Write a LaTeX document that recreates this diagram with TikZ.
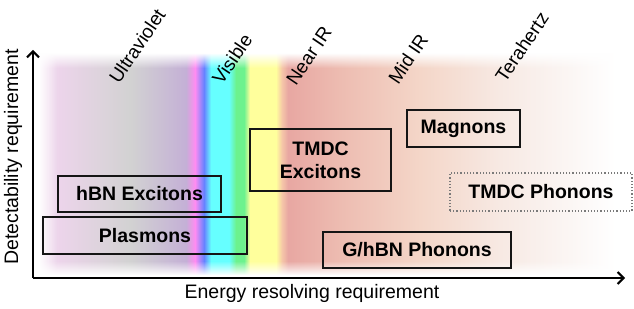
\documentclass[tikz,border=0pt]{standalone}
\usepackage{fontspec}
\setmainfont{Liberation Sans}
\usepackage{xcolor}
\usepackage{tikz}
\usetikzlibrary{arrows.meta, fadings}

\definecolor{uvpink}{HTML}{F2DCF0}
\definecolor{uvpinkb}{HTML}{ECD4EA}
\definecolor{uvgray}{HTML}{D2D2D2}
\definecolor{uvlilac}{HTML}{C4B0D6}
\definecolor{vismag}{HTML}{FF8CF2}
\definecolor{visblue}{HTML}{6682FF}
\definecolor{viscyan}{HTML}{66FFFF}
\definecolor{visgreen}{HTML}{6CF28E}
\definecolor{visyellow}{HTML}{FFFF9C}
\definecolor{nirorange}{HTML}{F5C6A8}
\definecolor{nirred}{HTML}{E8A7A2}
\definecolor{nirb}{HTML}{EDBCB1}
\definecolor{mirpeach}{HTML}{F4D6C8}
\definecolor{thzpale}{HTML}{F7E9E3}
\definecolor{thzfade}{HTML}{FBF6F4}
\definecolor{boxline}{HTML}{151515}
\definecolor{dotline}{HTML}{7A7A7A}

% spectrum across the band, x = 40 ... 615
\pgfdeclarehorizontalshading{spectrum}{100bp}{color(0bp)=(uvpink); color(25bp)=(uvpink);
  color(26.74bp)=(uvpinkb); color(32.83bp)=(uvgray); color(37.7bp)=(uvlilac);
  color(38.48bp)=(vismag); color(39.26bp)=(visblue); color(39.87bp)=(viscyan);
  color(41.43bp)=(viscyan); color(42.04bp)=(visgreen); color(42.74bp)=(visgreen);
  color(43.26bp)=(visyellow); color(45.52bp)=(visyellow); color(46.04bp)=(nirorange);
  color(46.57bp)=(nirred); color(51.09bp)=(nirb); color(58.04bp)=(mirpeach);
  color(65bp)=(thzpale); color(71.09bp)=(thzfade); color(75bp)=(white); color(100bp)=(white)}

\tikzfading[name=fadetop, top color=transparent!0, bottom color=transparent!100]
\tikzfading[name=fadebottom, top color=transparent!100, bottom color=transparent!0]
\tikzfading[name=fadeleft, left color=transparent!0, right color=transparent!100]

\begin{document}
\begin{tikzpicture}[
    x=1pt, y=1pt,
    box/.style={rectangle, draw=boxline, line width=1.2pt, inner sep=0pt, align=center, font=\fontsize{19.5}{23}\selectfont\bfseries},
    dottedbox/.style={box, draw=dotline, dotted, line width=1.3pt},
    region/.style={rotate=56, font=\fontsize{19}{22}\selectfont},
    axislabel/.style={font=\fontsize{19.5}{22}\selectfont},
    axis/.style={-{Straight Barb[length=6pt, width=12pt]}, line width=2pt}
]
\useasboundingbox (0,0) rectangle (634,308);

% Spectrum
\shade[shading=spectrum] (40,34) rectangle (615,254);
\fill[white, path fading=fadetop] (38,240) rectangle (617,255);
\fill[white, path fading=fadebottom] (38,33) rectangle (617,47);
\fill[white, path fading=fadeleft] (38,33) rectangle (57,255);

% Regions
\node[region] (uv) at (137,262) {Ultraviolet};
\node[region] (vis) at (232,249) {Visible};
\node[region] (nir) at (309,252) {Near IR};
\node[region] (mir) at (408,249) {Mid IR};
\node[region] (thz) at (522,261) {Terahertz};

% Excitations
\node[box, minimum width=163pt, minimum height=36pt] (hbn) at (139.5,114) {hBN Excitons};
\node[box, minimum width=204pt, minimum height=37pt] (plasmons) at (145,72.5) {Plasmons};
\node[box, minimum width=141pt, minimum height=62pt] (tmdcex) at (320.5,148) {TMDC\\Excitons};
\node[box, minimum width=113pt, minimum height=37pt] (magnons) at (463.5,179.5) {Magnons};
\node[dottedbox, minimum width=182pt, minimum height=38pt] (tmdcph) at (541,116) {TMDC Phonons};
\node[box, minimum width=188pt, minimum height=36pt] (ghbn) at (417,58) {G/hBN Phonons};

% Axes
\coordinate (origin) at (33,30);
\coordinate (ytip) at (33,258);
\coordinate (xtip) at (625,30);
\draw[axis] (origin) -- (ytip);
\draw[axis] (origin) -- (xtip);
\node[axislabel] (xlabel) at (312,15) {Energy resolving requirement};
\node[axislabel, rotate=90] (ylabel) at (13,151) {Detectability requirement};

\end{tikzpicture}
\end{document}
